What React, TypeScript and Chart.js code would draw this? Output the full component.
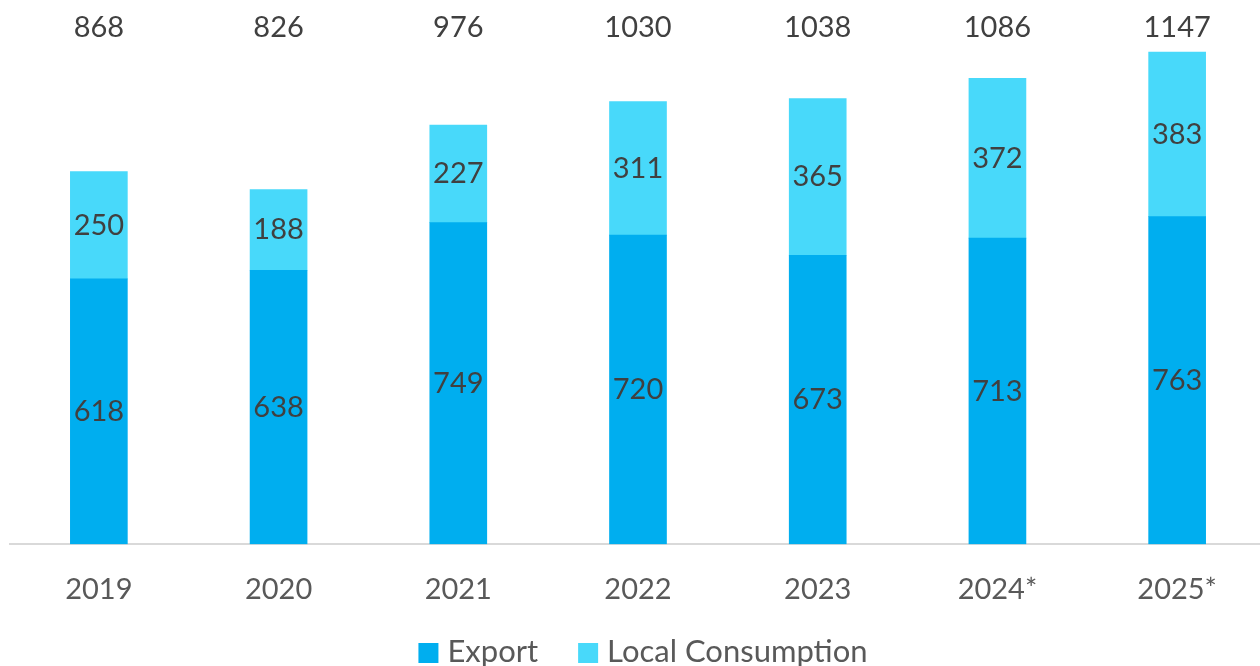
import React, { useEffect, useRef } from "react";
import { Chart, registerables } from "chart.js";

Chart.register(...registerables);

const categories = ["2019", "2020", "2021", "2022", "2023", "2024*", "2025*"];
const exportValues = [618, 638, 749, 720, 673, 713, 763];
const localValues = [250, 188, 227, 311, 365, 372, 383];
const totalLabels = [868, 826, 976, 1030, 1038, 1086, 1147];

const FONT = "Lato, 'Noto Sans', sans-serif";

const labelPlugin = {
  id: "valueLabels",
  afterDatasetsDraw(chart: any) {
    const ctx = chart.ctx;
    ctx.save();
    ctx.font = `29px ${FONT}`;
    ctx.fillStyle = "#404040";
    ctx.textAlign = "center";
    ctx.textBaseline = "middle";
    chart.data.datasets.forEach((ds: any, di: number) => {
      const meta = chart.getDatasetMeta(di);
      meta.data.forEach((bar: any, i: number) => {
        const y = (bar.y + bar.base) / 2;
        ctx.fillText(String(ds.data[i]), bar.x, y);
      });
    });
    const meta0 = chart.getDatasetMeta(0);
    meta0.data.forEach((bar: any, i: number) => {
      ctx.fillText(String(totalLabels[i]), bar.x, 28);
    });
    ctx.restore();
  },
  afterDraw(chart: any) {
    const ctx = chart.ctx;
    ctx.save();
    ctx.font = `31px ${FONT}`;
    ctx.textBaseline = "middle";
    const items = chart.data.datasets.map((ds: any) => ({ text: ds.label, color: ds.backgroundColor }));
    const box = 20;
    const gapBoxText = 9;
    const gapItems = 40;
    const widths = items.map((it: any) => box + gapBoxText + ctx.measureText(it.text).width);
    const total = widths.reduce((a: number, b: number) => a + b, 0) + gapItems * (items.length - 1);
    let x = 643 - 9 - total / 2;
    const cy = 652;
    items.forEach((it: any, i: number) => {
      ctx.fillStyle = it.color;
      ctx.fillRect(x, cy - box / 2 + 1, box, box);
      ctx.fillStyle = "#595959";
      ctx.textAlign = "left";
      ctx.fillText(it.text, x + box + gapBoxText, cy);
      x += widths[i] + gapItems;
    });
    ctx.restore();
  },
};

export default function App() {
  const ref = useRef<HTMLCanvasElement | null>(null);
  useEffect(() => {
    if (!ref.current) return;
    const chart = new Chart(ref.current, {
      type: "bar",
      data: {
        labels: categories,
        datasets: [
          { label: "Export", data: exportValues, backgroundColor: "#00AEEF", barThickness: 57 },
          { label: "Local Consumption", data: localValues, backgroundColor: "#48D9FA", barThickness: 57 },
        ],
      },
      options: {
        animation: false,
        responsive: true,
        maintainAspectRatio: false,
        layout: { padding: { top: 29, bottom: 39, left: 0, right: 0 } },
        plugins: { legend: { display: false }, tooltip: { enabled: false } },
        scales: {
          x: {
            stacked: true,
            grid: { display: false },
            border: { display: true, color: "#D9D9D9", width: 2 },
            ticks: { color: "#595959", font: { family: FONT, size: 29 }, padding: 20 },
          },
          y: { stacked: true, display: false, min: 0, max: 1200 },
        },
      },
      plugins: [labelPlugin],
    });
    return () => chart.destroy();
  }, []);
  return (
    <div style={{ position: "fixed", left: 0, top: 0, width: 1260, height: 666, overflow: "hidden", background: "#fff" }}>
      <div style={{ position: "absolute", left: 9, top: 0, width: 1258, height: 666 }}>
        <canvas ref={ref} />
      </div>
    </div>
  );
}
